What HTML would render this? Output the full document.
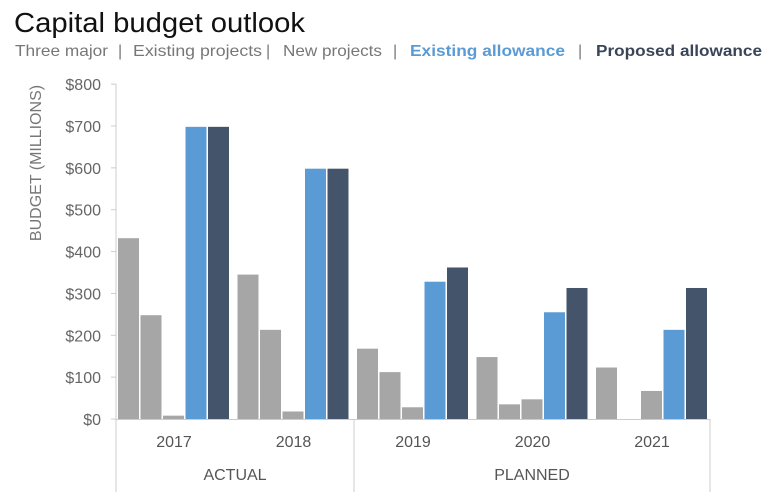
<!DOCTYPE html>
<html><head><meta charset="utf-8"><style>
body{margin:0;background:#fff;width:772px;height:496px;overflow:hidden}
svg{display:block;font-family:"Liberation Sans",sans-serif}
</style></head><body>
<svg id="chart" width="772" height="496" viewBox="0 0 772 496">
<text x="14" y="32" font-size="28" fill="#111" textLength="291" lengthAdjust="spacingAndGlyphs">Capital budget outlook</text>
<g font-size="16">
<text x="15" y="56" fill="#777" textLength="93" lengthAdjust="spacingAndGlyphs">Three major</text>
<text x="118" y="56" fill="#777">|</text>
<text x="133" y="56" fill="#777" textLength="129" lengthAdjust="spacingAndGlyphs">Existing projects</text>
<text x="266" y="56" fill="#777">|</text>
<text x="283" y="56" fill="#777" textLength="99" lengthAdjust="spacingAndGlyphs">New projects</text>
<text x="393" y="56" fill="#777">|</text>
<text x="410" y="56" fill="#5b9bd5" font-weight="bold" textLength="155" lengthAdjust="spacingAndGlyphs">Existing allowance</text>
<text x="578" y="56" fill="#777">|</text>
<text x="596" y="56" fill="#3a4558" font-weight="bold" textLength="166" lengthAdjust="spacingAndGlyphs">Proposed allowance</text>
</g>
<text transform="translate(41,163) rotate(-90)" text-anchor="middle" font-size="16" fill="#777">BUDGET (MILLIONS)</text>
<g id="axis"></g>
<g id="bars"></g>
</svg>
<script>
const years = ["2017","2018","2019","2020","2021"];
const threeMajor = [432,345,168,148,123];
const existingProjects = [248,213,112,35,0];
const newProjects = [8,18,28,47,67];
const existingAllowance = [698,598,328,255,213];
const proposedAllowance = [698,598,362,313,313];
const yTicks = [0,100,200,300,400,500,600,700,800];
const yTickLabels = ["$0","$100","$200","$300","$400","$500","$600","$700","$800"];
const groups = [{label:"ACTUAL",from:0,to:1},{label:"PLANNED",from:2,to:4}];
const series = [threeMajor,existingProjects,newProjects,existingAllowance,proposedAllowance];
const colors = ["#a6a6a6","#a6a6a6","#a6a6a6","#5b9bd5","#44546a"];
const NS="http://www.w3.org/2000/svg";
const y0=419, pxPer=(419-126)/700;
const yS=v=>y0-v*pxPer;
const gStart=118, gW=119.5, bStep=22.5, bW=21;
const xG=i=>gStart+i*gW;
const axis=document.getElementById('axis'), bars=document.getElementById('bars');
function mk(tag,attrs,parent){const e=document.createElementNS(NS,tag);for(const k in attrs)e.setAttribute(k,attrs[k]);parent.appendChild(e);return e;}
let l=mk('line',{x1:116,y1:yS(800),x2:116,y2:y0,stroke:'#ccc'},axis);


yTicks.forEach((t,i)=>{
  const tk=mk('line',{x1:111,x2:116,y1:yS(t),y2:yS(t),stroke:'#ccc'},axis);
  
  
  const tx=mk('text',{x:101,y:yS(t)+6,'text-anchor':'end','font-size':16,fill:'#666'},axis);
  
  
  tx.textContent=yTickLabels[i];
});
const xEnd=710;
l=mk('line',{x1:116,y1:y0+0.5,x2:xEnd,y2:y0+0.5,stroke:'#ccc'},axis);


years.forEach((yr,i)=>{
  const tx=mk('text',{x:xG(i)+56,y:447,'text-anchor':'middle','font-size':16,fill:'#555'},axis);
  
  
  tx.textContent=yr;
});
groups.forEach((g,gi)=>{
  const left=gi===0?116:xG(g.from)-3;
  const right=gi===groups.length-1?xEnd:xG(g.to+1)-3;
  const sl=mk('line',{x1:left,x2:left,y1:y0,y2:492,stroke:'#ccc'},axis);
  
  
  if(gi===groups.length-1){const sr=mk('line',{x1:right,x2:right,y1:y0,y2:492,stroke:'#ccc'},axis);
  
  }
  const tx=mk('text',{x:(left+right)/2,y:480,'text-anchor':'middle','font-size':16,fill:'#555'},axis);
  
  
  tx.textContent=g.label;
});
years.forEach((yr,i)=>{
  series.forEach((s,si)=>{
    const v=s[i];
    const r=mk('rect',{x:xG(i)+si*bStep,y:yS(v),width:bW,height:y0-yS(v),fill:colors[si]},bars);
    
    
  });
});
</script>
</body></html>
